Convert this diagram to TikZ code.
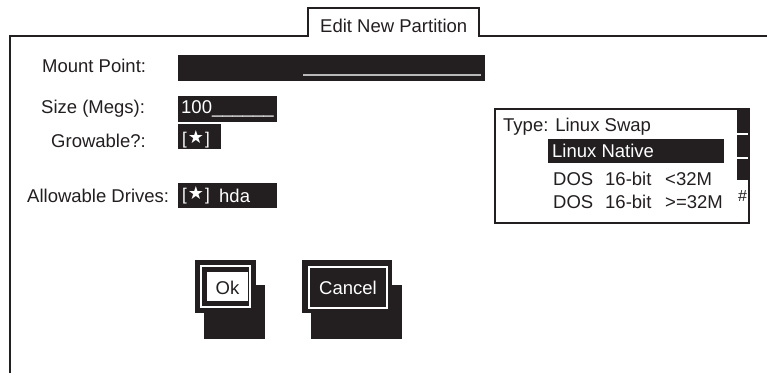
\documentclass[tikz,border=0pt]{standalone}
\usepackage{fontspec}
\setmainfont{Liberation Sans}
\newfontfamily\djv{DejaVu Sans}
\definecolor{ink}{RGB}{35,31,32}
\newcommand{\chk}{{\fontsize{17}{17}\selectfont[\kern1pt{\djv\bfseries\fontsize{18}{18}\selectfont\raisebox{0.3pt}{★}}\kern1pt]}}
\begin{document}
\begin{tikzpicture}[x=1pt,y=-1pt,
  lbl/.style={anchor=base west,inner sep=0pt,text=ink,font=\fontsize{18.5}{20}\selectfont},
  wlbl/.style={lbl,text=white},
  field/.style={fill=ink},
  frameline/.style={draw=ink,line width=2.2pt},
  btnframe/.style={draw=white,line width=1.5pt},
]
\useasboundingbox (0,0) rectangle (767,373);
\fill[white] (0,0) rectangle (767,373);
% window frame with tab
\draw[frameline] (10,373) -- (10,36) -- (308,36) -- (308,8) -- (479,8) -- (479,36) -- (767,36);
\node[lbl] (tab) at (320,32) {Edit New Partition};
% mount point
\node[lbl] (mp) at (42,72) {Mount Point:};
\fill[field] (178,55) rectangle (485,81);
\draw[gray!55,line width=1.5pt] (303,75) -- (481,75);
% size
\node[lbl] (sz) at (41,113) {Size (Megs):};
\fill[field] (178,96) rectangle (277,122);
\node[wlbl] (szv) at (181,113) {100\_\_\_\_\_\_};
% growable
\node[lbl] (gr) at (51,147) {Growable?:};
\fill[field] (178,124) rectangle (221,149);
\node[wlbl] (grv) at (182,144) {\chk};
% allowable drives
\node[lbl] (ad) at (27,202) {Allowable Drives:};
\fill[field] (178,183) rectangle (277,208);
\node[wlbl] (adv) at (182,200) {\chk};
\node[wlbl] (hda) at (219,202) {hda};
% type list box
\fill[field] (737,109) rectangle (749,133);
\fill[field] (737,135) rectangle (749,157);
\fill[field] (737,159) rectangle (749,180);
\draw[ink,line width=1.6pt] (495,109) rectangle (749,223);
\node[lbl,font=\fontsize{16}{16}\selectfont] (hash) at (738,201) {\#};
\node[lbl] (type) at (503,131) {Type: Linux Swap};
\fill[field] (548,139) rectangle (724,163);
\node[wlbl] (ln) at (552,157) {Linux Native};
\node[lbl] (d1a) at (553,185) {DOS};
\node[lbl] (d1b) at (605,185) {16-bit};
\node[lbl] (d1c) at (665,185) {<32M};
\node[lbl] (d2a) at (553,208) {DOS};
\node[lbl] (d2b) at (605,208) {16-bit};
\node[lbl] (d2c) at (665,208) {>=32M};
% Ok button
\fill[field] (204,285) rectangle (265,339);
\fill[field] (195,260) rectangle (256,313);
\draw[btnframe] (201,266) rectangle (250,307);
\fill[white] (207,272) rectangle (248,301);
\node[lbl,anchor=base] (ok) at (227.5,294) {Ok};
% Cancel button
\fill[field] (311,285) rectangle (402,339);
\fill[field] (302,260) rectangle (392,313);
\draw[btnframe] (309,267) rectangle (387,308);
\node[wlbl,anchor=base] (cancel) at (348,294) {Cancel};
\end{tikzpicture}
\end{document}
